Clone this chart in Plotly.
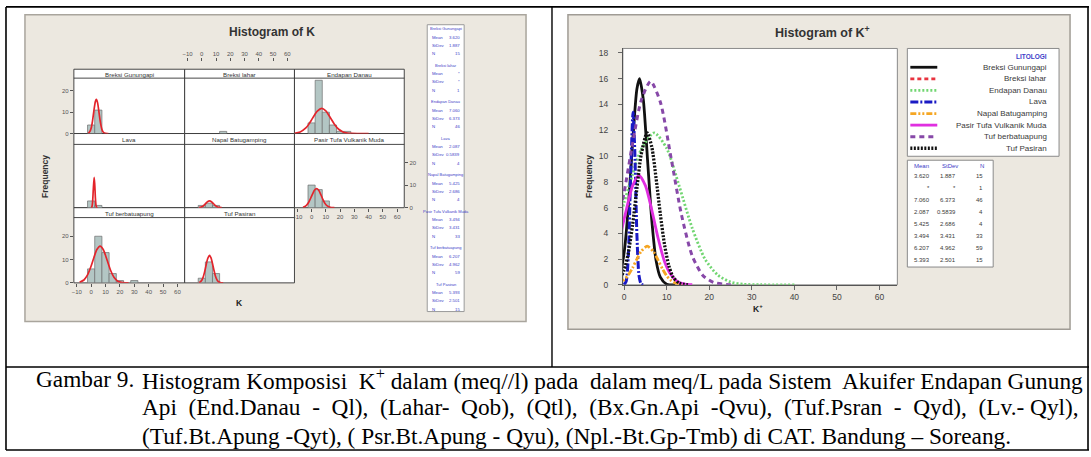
import plotly.graph_objects as go

# ------------------------------------------------------------------ data
groups = ["Breksi Gunungapi", "Breksi lahar", "Endapan Danau", "Lava",
          "Napal Batugamping", "Pasir Tufa Vulkanik Muda", "Tuf berbatuapung", "Tuf Pasiran"]
mean_txt = ["3.620", "*", "7.060", "2.087", "5.425", "3.494", "6.207", "5.393"]
stdev_txt = ["1.887", "*", "6.373", "0.5839", "2.686", "3.431", "4.962", "2.501"]
n_txt = ["15", "1", "46", "4", "4", "33", "59", "15"]

bin_centers = [0, 5, 10, 15, 20, 25, 30]
freq_breksi_gunungapi = [4, 11, 0, 0, 0, 0, 0]
freq_breksi_lahar = [0, 0, 0, 1, 0, 0, 0]
freq_endapan_danau = [5, 25, 10, 4, 1, 1, 0]
freq_lava = [3, 1, 0, 0, 0, 0, 0]
freq_napal_batugamping = [1, 2, 1, 0, 0, 0, 0]
freq_pasir_tufa = [10, 8, 3, 0, 0, 0, 0]
freq_tuf_berbatuapung = [6, 20, 13, 4, 1, 0, 1]
freq_tuf_pasiran = [2, 9, 4, 0, 0, 0, 0]

# fitted curves (frequency vs K+)
cx_breksi_gunungapi = [-2, -1, 0, 1, 2, 3, 3.62, 4.5, 5.5, 6.5, 7.5, 8.5, 10, 12]
cy_breksi_gunungapi = [0.19, 0.8, 2.5, 6.1, 11.1, 15.2, 16.0, 14.4, 9.7, 5.0, 1.9, 0.6, 0.05, 0.0]
cx_endapan_danau = [-12, -8, -4, -2, 0, 2, 4, 7.06, 10, 13, 16, 19, 22, 25, 28, 32, 40]
cy_endapan_danau = [0.13, 0.72, 2.6, 4.3, 6.4, 8.6, 10.5, 11.8, 10.6, 7.6, 4.4, 2.0, 0.76, 0.22, 0.05, 0.01, 0.0]
cx_lava = [0, 0.5, 1, 1.5, 2.087, 2.5, 3, 3.5, 4, 4.5]
cy_lava = [0.01, 0.3, 2.4, 8.1, 13.4, 10.4, 3.9, 0.7, 0.06, 0.0]
cx_napal_batugamping = [-2, -1, 0, 1, 2, 3, 4, 5.425, 7, 8, 9, 10, 11, 12, 14]
cy_napal_batugamping = [0.07, 0.17, 0.39, 0.77, 1.33, 2.0, 2.6, 3.0, 2.53, 1.9, 1.24, 0.70, 0.35, 0.15, 0.02]
cx_pasir_tufa = [-6, -4, -2, 0, 1, 2, 3.494, 5, 6.5, 8, 9.5, 11, 12.5, 14, 16]
cy_pasir_tufa = [0.19, 0.78, 2.4, 5.1, 6.5, 7.7, 8.5, 7.7, 5.8, 3.6, 1.8, 0.78, 0.27, 0.08, 0.01]
cx_tuf_berbatuapung = [-8, -5, -2.5, 0, 2, 4, 6.207, 8.5, 11, 13.5, 16, 18.5, 21, 24, 26]
cy_tuf_berbatuapung = [0.26, 1.23, 3.4, 7.2, 11.0, 14.3, 15.8, 14.2, 9.9, 5.4, 2.25, 0.73, 0.19, 0.03, 0.0]
cx_tuf_pasiran = [-2, -1, 0, 1, 2, 3, 4, 5.393, 6.5, 7.5, 8.5, 9.5, 10.5, 11.5, 13, 15]
cy_tuf_pasiran = [0.15, 0.45, 1.15, 2.5, 4.7, 7.5, 10.1, 11.8, 10.7, 8.3, 5.5, 3.1, 1.5, 0.6, 0.12, 0.0]

x_ticks_left = [-10, 0, 10, 20, 30, 40, 50, 60]
y_ticks_left = [0, 10, 20]
x_ticks_right = [0, 10, 20, 30, 40, 50, 60]
y_ticks_right = [0, 2, 4, 6, 8, 10, 12, 14, 16, 18]

caption_label = "Gambar 9."
caption_lines = [
    "Histogram Komposisi  K<sup>+</sup> dalam (meq//l) pada  dalam meq/L pada Sistem  Akuifer Endapan Gunung",
    "Api  (End.Danau  -  Ql),  (Lahar-  Qob),  (Qtl),  (Bx.Gn.Api  -Qvu),  (Tuf.Psran  -  Qyd),  (Lv.- Qyl),",
    "(Tuf.Bt.Apung -Qyt), ( Psr.Bt.Apung - Qyu), (Npl.-Bt.Gp-Tmb) di CAT. Bandung \u2013 Soreang.",
]

# ------------------------------------------------------------------ geometry / style
W, H = 1091, 457
def fx(px): return px / W
def fy(py): return 1 - py / H

freqs = [freq_breksi_gunungapi, freq_breksi_lahar, freq_endapan_danau, freq_lava,
         freq_napal_batugamping, freq_pasir_tufa, freq_tuf_berbatuapung, freq_tuf_pasiran]
curves_x = [cx_breksi_gunungapi, None, cx_endapan_danau, cx_lava,
            cx_napal_batugamping, cx_pasir_tufa, cx_tuf_berbatuapung, cx_tuf_pasiran]
curves_y = [cy_breksi_gunungapi, None, cy_endapan_danau, cy_lava,
            cy_napal_batugamping, cy_pasir_tufa, cy_tuf_berbatuapung, cy_tuf_pasiran]

line_styles = [
    dict(color="#111111", width=2.8, dash="solid"),
    dict(color="#e8333f", width=2.8, dash="4px,3px"),
    dict(color="#72d672", width=2.8, dash="2px,2px"),
    dict(color="#1a1ac4", width=3.0, dash="8px,2px,2px,2px"),
    dict(color="#f5a623", width=2.8, dash="6px,2px,2px,2px,2px,2px"),
    dict(color="#e02fe0", width=2.8, dash="solid"),
    dict(color="#8748a8", width=3.0, dash="5px,4px"),
    dict(color="#111111", width=3.3, dash="2px,1.5px"),
]

cols_px = [(72, 183), (183, 293), (293, 403)]
strip_px = [(70, 79), (135, 146), (210, 220)]
plot_px = [(79, 135), (146, 210), (220, 286)]
yr = [26, 28, 28]
panel_rc = [(0, 0), (0, 1), (0, 2), (1, 0), (1, 1), (1, 2), (2, 0), (2, 1)]

SANS = "Liberation Sans"
SERIF = "Liberation Serif"
BEIGE = "#ece8e0"
TXT = "#3a3a3a"
BLUE = "#3d3dc8"

fig = go.Figure()
layout_axes = {}
tickfont_small = dict(size=6, color="#555", family=SANS)

for i, (r, c) in enumerate(panel_rc):
    k = "" if i == 0 else str(i + 1)
    f = freqs[i]
    xs = [b for b, v in zip(bin_centers, f) if v > 0]
    ys = [v for v in f if v > 0]
    fig.add_trace(go.Bar(x=xs, y=ys, width=5, xaxis="x" + k, yaxis="y" + k,
                         marker=dict(color="#b3c6c4", line=dict(color="#6f6f6f", width=0.7)),
                         showlegend=False, hoverinfo="skip"))
    if curves_x[i] is not None:
        fig.add_trace(go.Scatter(x=curves_x[i], y=curves_y[i], mode="lines", xaxis="x" + k, yaxis="y" + k,
                                 line=dict(color="#e3242b", width=1.7, shape="spline", smoothing=0.7),
                                 showlegend=False, hoverinfo="skip"))
    xa = dict(domain=[fx(cols_px[c][0]), fx(cols_px[c][1])], range=[-12, 65], anchor="y" + k,
              showgrid=False, zeroline=False, showline=False, showticklabels=False, ticks="",
              tickvals=x_ticks_left, tickfont=tickfont_small, ticklen=3, tickcolor="#555", fixedrange=True)
    ya = dict(domain=[fy(plot_px[r][1]), fy(plot_px[r][0])], range=[0, yr[r]], anchor="x" + k,
              showgrid=False, zeroline=False, showline=False, showticklabels=False, ticks="",
              tickvals=y_ticks_left, tickfont=tickfont_small, ticklen=3, tickcolor="#555", fixedrange=True)
    if (r, c) == (0, 1):
        xa.update(anchor="free", position=fy(62), side="top", ticks="outside", showticklabels=True)
    if (r, c) in [(2, 0), (1, 2)]:
        xa.update(ticks="outside", showticklabels=True)
    if (r, c) in [(0, 0), (2, 0)]:
        ya.update(ticks="outside", showticklabels=True)
    if (r, c) == (1, 2):
        ya.update(ticks="outside", showticklabels=True, side="right")
    layout_axes["xaxis" + k] = xa
    layout_axes["yaxis" + k] = ya

# right overlay plot
for i in range(len(groups)):
    if curves_x[i] is None:
        continue
    st = line_styles[i]
    fig.add_trace(go.Scatter(x=curves_x[i], y=curves_y[i], mode="lines", xaxis="x9", yaxis="y9",
                             line=dict(color=st["color"], width=st["width"], dash=st["dash"],
                                       shape="spline", smoothing=0.7),
                             showlegend=False, hoverinfo="skip"))
layout_axes["xaxis9"] = dict(domain=[fx(622), fx(897)], range=[-0.3, 64.2], anchor="y9",
                             tickvals=x_ticks_right, ticks="outside", ticklen=4, tickcolor="#666",
                             tickfont=dict(size=8.5, color="#444", family=SANS), showgrid=False,
                             zeroline=False, showline=True, linecolor="#555", linewidth=1, fixedrange=True)
layout_axes["yaxis9"] = dict(domain=[fy(288), fy(49)], range=[0, 18.35], anchor="x9",
                             tickvals=y_ticks_right, ticks="outside", ticklen=4, tickcolor="#666",
                             ticklabelstandoff=8,
                             tickfont=dict(size=8.5, color="#444", family=SANS), showgrid=False,
                             zeroline=False, showline=True, linecolor="#555", linewidth=1, fixedrange=True)

# ------------------------------------------------------------------ shapes
shapes = []
def rect(x0, y0, x1, y1, fill, lc, lw=1, layer="below"):
    shapes.append(dict(type="rect", xref="paper", yref="paper", x0=fx(x0), y0=fy(y1), x1=fx(x1), y1=fy(y0),
                       fillcolor=fill, line=dict(color=lc, width=lw), layer=layer))
def hline(x0, x1, y, color, width=1, dash="solid", layer="above"):
    shapes.append(dict(type="line", xref="paper", yref="paper", x0=fx(x0), x1=fx(x1), y0=fy(y), y1=fy(y),
                       line=dict(color=color, width=width, dash=dash), layer=layer))
def vline(x, y0, y1, color, width=1, layer="above"):
    shapes.append(dict(type="line", xref="paper", yref="paper", x0=fx(x), x1=fx(x), y0=fy(y0), y1=fy(y1),
                       line=dict(color=color, width=width), layer=layer))

# screenshots backgrounds
rect(23, 15, 525, 325, BEIGE, "#a9a59d", 1.5)
rect(567, 15, 1070, 333, BEIGE, "#a09c95", 1.5)
# left panels
for i, (r, c) in enumerate(panel_rc):
    rect(cols_px[c][0], strip_px[r][0], cols_px[c][1], plot_px[r][1], "white", "#333", 0.9)
    hline(cols_px[c][0], cols_px[c][1], strip_px[r][1], "#333", 0.9, layer="below")
# left stats box
rect(426, 25, 463, 315, "white", "#9a9a9a", 1)
# right plot area + legend boxes
rect(622, 49, 897, 288, "white", "#8a8a8a", 1)
rect(907, 49, 1059, 158, "white", "#8a8a8a", 1)
rect(907, 162, 993, 270, "white", "#8a8a8a", 1)
# document table frame
hline(4, 1089, 7, "black", 1.6)
hline(4, 1089, 371, "black", 1.4)
hline(4, 1089, 455, "black", 1.6)
vline(4, 7, 455, "black", 1.6)
vline(1088, 7, 455, "black", 1.6)
vline(551, 7, 371, "black", 1.4)

# legend line samples
leg_y = [68 + 11.7 * j for j in range(len(groups))]
for j, st in enumerate(line_styles):
    shapes.append(dict(type="line", xref="paper", yref="paper", x0=fx(910), x1=fx(937),
                       y0=fy(leg_y[j]), y1=fy(leg_y[j]),
                       line=dict(color=st["color"], width=st["width"], dash=st["dash"]), layer="above"))

# ------------------------------------------------------------------ annotations
ann = []
def txt(px, py, s, size, color=TXT, xa="center", ya="middle", family=SANS, angle=0):
    ann.append(dict(x=fx(px), y=fy(py), xref="paper", yref="paper", text=s, showarrow=False,
                    xanchor=xa, yanchor=ya, textangle=angle, borderpad=0,
                    font=dict(size=size, color=color, family=family)))

# left screenshot
txt(270, 32, "<b>Histogram of K</b>", 12, "#333")
for i, (r, c) in enumerate(panel_rc):
    txt((cols_px[c][0] + cols_px[c][1]) / 2, (strip_px[r][0] + strip_px[r][1]) / 2 + 0.5, groups[i], 6.2, "#333")
txt(43, 178, "<b>Frequency</b>", 8.5, "#333", angle=-90)
txt(238, 306, "<b>K</b>", 8.5, "#222")
for g in range(len(groups)):
    base = 29 + 36.9 * g
    txt(444.5, base, groups[g], 4.0, BLUE)
    for k2, (lab, val) in enumerate([("Mean", mean_txt[g]), ("StDev", stdev_txt[g]), ("N", n_txt[g])]):
        txt(430, base + 8.5 * (k2 + 1), lab, 4.3, BLUE, xa="left")
        txt(460, base + 8.5 * (k2 + 1), val, 4.3, BLUE, xa="right")

# right screenshot
txt(822, 32, "<b>Histogram of K<sup>+</sup></b>", 12.5, "#333")
txt(588, 178, "<b>Frequency</b>", 8.5, "#333", angle=-90)
txt(757, 312, "<b>K<sup>+</sup></b>", 8.5, "#222")
txt(1048, 57, "<b>LITOLOGI</b>", 6.5, BLUE, xa="right")
for j, g in enumerate(groups):
    txt(1048, leg_y[j], g, 8.0, "#3a3a3a", xa="right")
txt(921, 168, "Mean", 6, BLUE)
txt(950, 168, "StDev", 6, BLUE)
txt(982, 168, "N", 6, BLUE)
for j in range(len(groups)):
    yy = 178 + 12.15 * j
    txt(931, yy, mean_txt[j], 6, "#3a3a3a", xa="right")
    txt(957, yy, stdev_txt[j], 6, "#3a3a3a", xa="right")
    txt(984, yy, n_txt[j], 6, "#3a3a3a", xa="right")

# caption
cap_y = [383, 412, 441]
txt(33, cap_y[0], caption_label, 23.3, "black", xa="left", family=SERIF)
for j, line in enumerate(caption_lines):
    txt(139, cap_y[j], line, 23.3, "black", xa="left", family=SERIF)

fig.update_layout(width=W, height=H, margin=dict(l=0, r=0, t=0, b=0), paper_bgcolor="white",
                  plot_bgcolor="rgba(0,0,0,0)", showlegend=False, shapes=shapes, annotations=ann,
                  **layout_axes)
fig.write_html("out.html")
